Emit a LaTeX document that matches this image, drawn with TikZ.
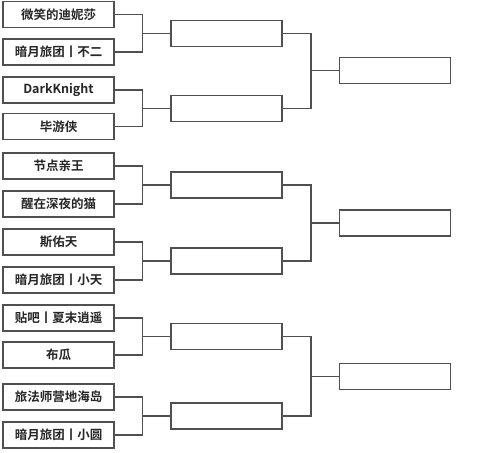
\documentclass[tikz,border=0pt]{standalone}
\usepackage{fontspec}
\setmainfont{Noto Sans CJK SC}[BoldFont={Noto Sans CJK SC Bold}]
\definecolor{linecol}{HTML}{505050}
\begin{document}
\begin{tikzpicture}[x=1pt,y=-1pt,
  boxa/.style={draw=linecol,line width=1.3pt,fill=white,minimum width=111pt,minimum height=26pt,inner sep=0pt,font=\fontsize{12.5}{14}\selectfont\bfseries,text=black!85},
  link/.style={draw=linecol,line width=1.3pt}]
\useasboundingbox[fill=white] (0,0) rectangle (500,452);
% round 1
\node[boxa] (a1) at (58.5,14.5) {微笑的迪妮莎};
\node[boxa] (a2) at (58.5,52) {暗月旅团丨不二};
\node[boxa] (a3) at (58.5,90) {DarkKnight};
\node[boxa] (a4) at (58.5,126.5) {毕游侠};
\node[boxa] (a5) at (58.5,166) {节点亲王};
\node[boxa] (a6) at (58.5,204) {醒在深夜的猫};
\node[boxa] (a7) at (58.5,242) {斯佑天};
\node[boxa] (a8) at (58.5,280) {暗月旅团丨小天};
\node[boxa] (a9) at (58.5,318) {贴吧丨夏末逍遥};
\node[boxa] (a10) at (58.5,355) {布瓜};
\node[boxa] (a11) at (58.5,397) {旅法师营地海岛};
\node[boxa] (a12) at (58.5,435) {暗月旅团丨小圆};
% round 2
\node[boxa] (b1) at (226.5,33.25) {};
\node[boxa] (b2) at (226.5,108.25) {};
\node[boxa] (b3) at (226.5,185) {};
\node[boxa] (b4) at (226.5,261) {};
\node[boxa] (b5) at (226.5,336.5) {};
\node[boxa] (b6) at (226.5,416) {};
% final
\node[boxa] (c1) at (395,70.75) {};
\node[boxa] (c2) at (395,223) {};
\node[boxa] (c3) at (395,376.25) {};
% junctions
\foreach \i/\j/\k in {1/2/1,3/4/2,5/6/3,7/8/4,9/10/5,11/12/6}{
  \coordinate (j\k) at (142.5,0 |- b\k.west);
  \draw[link] (a\i.east) -| (j\k) |- (a\j.east);
  \draw[link] (j\k) -- (b\k.west);
}
\foreach \i/\j/\k in {1/2/1,3/4/2,5/6/3}{
  \coordinate (k\k) at (311,0 |- c\k.west);
  \draw[link] (b\i.east) -| (k\k) |- (b\j.east);
  \draw[link] (k\k) -- (c\k.west);
}
\end{tikzpicture}
\end{document}
